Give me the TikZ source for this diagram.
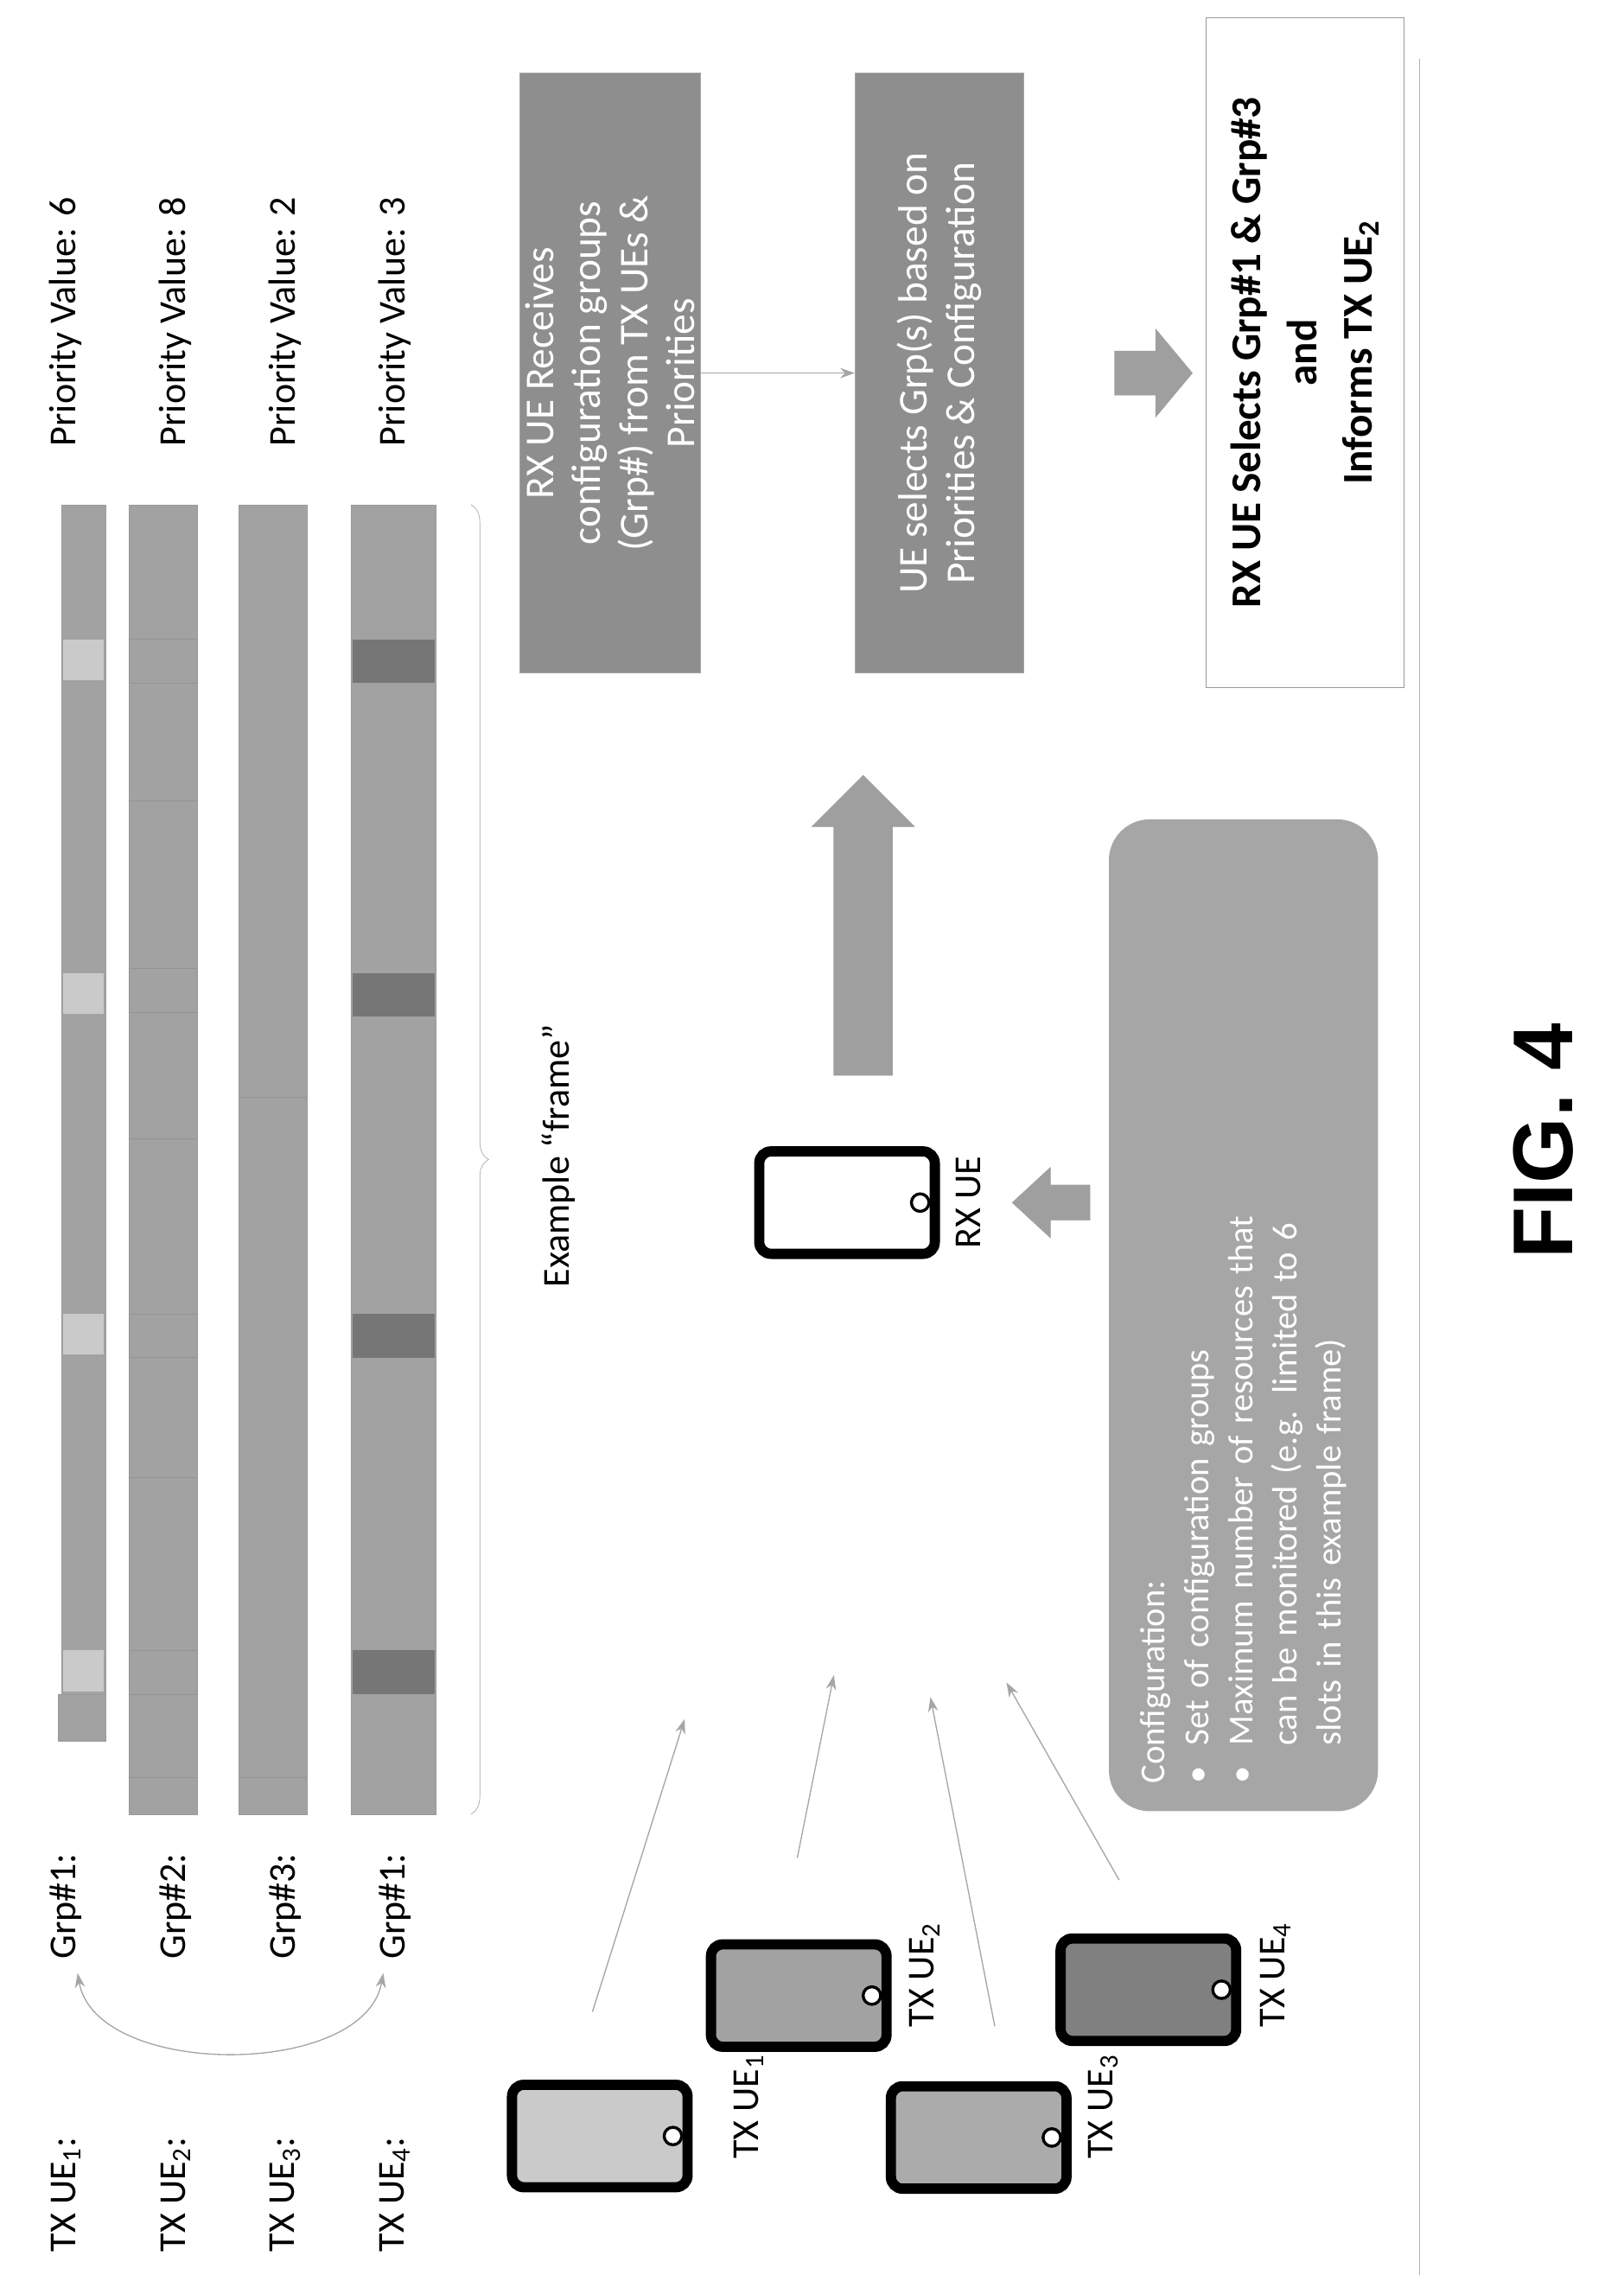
\documentclass[tikz,border=0pt]{standalone}
\usepackage{fontspec}
\setmainfont{Carlito}
\newfontfamily\figfont{Liberation Sans}
\usetikzlibrary{positioning,arrows.meta,decorations.pathreplacing}
\definecolor{barfill}{HTML}{A2A2A2}
\definecolor{slotlight}{HTML}{CACACA}
\definecolor{slotdark}{HTML}{767676}
\definecolor{boxdark}{HTML}{8E8E8E}
\tikzset{
  lbl/.style={rotate=90,font=\fontsize{26}{30}\selectfont},
  bar/.style={fill=barfill,draw=gray!80},
  stepbox/.style={rotate=90,fill=boxdark,draw=gray!70,text=white,align=center,
    minimum width=410pt,minimum height=85pt,inner sep=4pt,font=\fontsize{28}{32}\selectfont},
  thin arrow/.style={-{Stealth[length=10pt,width=7pt]},draw=gray!70,line width=0.8pt},
  block/.style={fill=gray!75,draw=gray!75},
  pics/phone/.style={code={
    \draw[line width=7pt,fill=#1,rounded corners=8pt] (-60,-35) rectangle (60,35);
    \draw[fill=#1,draw=#1] (-52,-27) rectangle (42,27);
    \draw[line width=2pt,fill=white] (50,0) circle (6);
  }}
}
\begin{document}
\begin{tikzpicture}[x=1pt,y=-1pt]
\useasboundingbox (0,0) rectangle (1110,1568);

% frame bars
\draw[bar] (42,345) rectangle (72,1158);
\draw[bar] (40,1158) rectangle (72,1190);
\foreach \y in {437,665,898,1128}
  \fill[slotlight] (43,\y) rectangle (71,\y+28);
\draw[bar] (88,345) rectangle (135,1240);
\foreach \y in {437,662,898,1128}
  \draw[draw=gray!85] (88,\y) rectangle (135,\y+30);
\foreach \y in {547,778,1010,1215}
  \draw[gray!85] (88,\y) -- (135,\y);
\draw[bar] (163,345) rectangle (210,1240);
\foreach \y in {750,1215}
  \draw[gray!85] (163,\y) -- (210,\y);
\draw[bar] (240,345) rectangle (298,1240);
\foreach \y in {437,665,898,1128}
  \fill[slotdark] (241,\y) rectangle (297,\y+30);

% brace and frame label
\draw[gray!70,decorate,decoration={brace,amplitude=12pt}] (322,345) -- (322,1240);
\node[lbl] (frame) at (382,790) {Example “frame”};

% row labels
\foreach \r/\x/\g/\p in {1/45/1/6,2/120/2/8,3/195/3/2,4/270/1/3}{
  \node[lbl] (tx\r) at (\x,1500) {TX UE\textsubscript{\r}:};
  \node[lbl] (grp\r) at (\x,1303) {Grp\#\g:};
  \node[lbl] (prio\r) at (\x,220) {Priority Value: \p};
}
\draw[{Stealth[length=10pt,width=7pt]}-{Stealth[length=10pt,width=7pt]},gray!70,line width=0.8pt]
  (grp1.west) ++(8,6) to[out=-80,in=-100,looseness=0.9] ([shift={(-8,6)}]grp4.west);

% TX and RX phones
\pic at (410,1460) {phone=slotlight};
\node[lbl] (ue1) at (512,1440) {TX UE\textsubscript{1}};
\pic at (546,1364) {phone=barfill};
\node[lbl] (ue2) at (632,1350) {TX UE\textsubscript{2}};
\pic at (669,1461) {phone=barfill!90};
\node[lbl] (ue3) at (754,1440) {TX UE\textsubscript{3}};
\pic at (785,1360) {phone=gray};
\node[lbl] (ue4) at (872,1350) {TX UE\textsubscript{4}};
\pic at (579,822) {phone=white};
\node[lbl] (rx) at (662,822) {RX UE};

\coordinate (s1) at (405,1375); \coordinate (e1) at (468,1175);
\coordinate (s2) at (545,1270); \coordinate (e2) at (570,1145);
\coordinate (s3) at (680,1385); \coordinate (e3) at (636,1160);
\coordinate (s4) at (765,1285); \coordinate (e4) at (688,1150);
\foreach \i in {1,...,4}
  \draw[thin arrow] (s\i) -- (e\i);

% configuration box
\node[rotate=90,fill=gray!70,rounded corners=28pt,minimum width=678pt,minimum height=184pt,
  text width=640pt,align=left,text=white,font=\fontsize{24}{30}\selectfont] (cfg) at (850,899)
  {Configuration:\\
   \textbullet\hspace{14pt}Set of configuration groups\\
   \textbullet\hspace{14pt}Maximum number of resources that\\
   \hspace{26pt}can be monitored (e.g. limited to 6\\
   \hspace{26pt}slots in this example frame)};
% block arrows
\fill[block] (745,810) -- (718,810) -- (718,798) -- (692,822) -- (718,846) -- (718,834) -- (745,834) -- cycle;
\fill[block] (570,735) -- (570,565) -- (555,565) -- (590,530) -- (625,565) -- (610,565) -- (610,735) -- cycle;

% processing steps
\node[stepbox] (recv) at (417,255) {RX UE Receives\\configuration groups\\(Grp\#) from TX UEs \&\\Priorities};
\node[stepbox,minimum height=115pt] (sel) at (642,255) {UE selects Grp(s) based on\\Priorities \& Configuration};
\draw[thin arrow,line width=0.6pt] (recv.south) -- (sel.north);
\node[rotate=90,draw=gray!80,fill=white,minimum width=458pt,minimum height=135pt,align=center,
  font=\bfseries\fontsize{29}{38}\selectfont] (out) at (892,241)
  {RX UE Selects Grp\#1 \& Grp\#3\\and\\Informs TX UE\textsubscript{2}};
\fill[block] (762,240) -- (790,240) -- (790,225) -- (815,255) -- (790,285) -- (790,270) -- (762,270) -- cycle;

\draw[gray!60] (970,40) -- (970,1555);
\node[rotate=90,font=\figfont\bfseries\fontsize{58}{60}\selectfont] (fig) at (1055,780) {FIG. 4};
\end{tikzpicture}
\end{document}
